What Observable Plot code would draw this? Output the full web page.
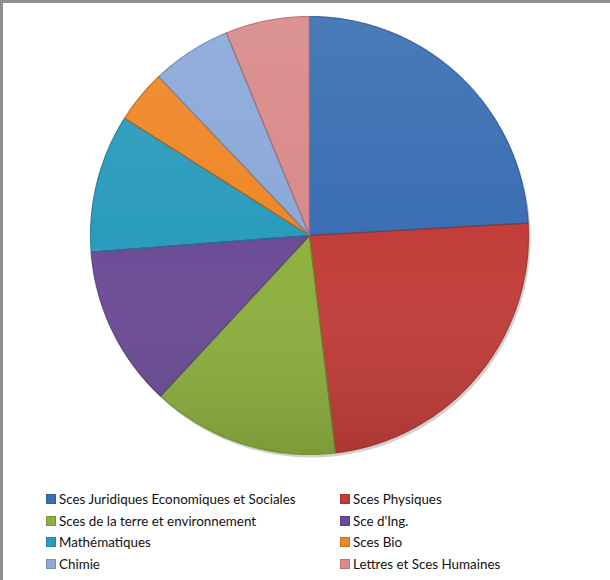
<!DOCTYPE html>
<html>
<head>
<meta charset="utf-8">
<script src="https://cdn.jsdelivr.net/npm/d3@7"></script>
<script src="https://cdn.jsdelivr.net/npm/@observablehq/plot@0.6"></script>
<style>
  html, body { margin: 0; padding: 0; background: #fff; }
  #frame { position: relative; width: 610px; height: 580px; box-sizing: border-box;
           border-top: 3px solid #8f8f8f; border-left: 3px solid #8f8f8f; overflow: hidden; }
  #chart { position: absolute; left: -3px; top: -3px; }
  #legend { position: absolute; left: -3px; top: -3px; width: 610px; font-family: Lato, "Open Sans", sans-serif;
            font-size: 13.4px; color: #111; }
  .item { position: absolute; display: flex; align-items: center; white-space: nowrap; }
  .sw { width: 10px; height: 10px; margin-right: 3px; box-sizing: border-box;
        box-shadow: inset 0 0 0 1px rgba(0,0,0,0.15); }
</style>
</head>
<body>
<div id="frame"><div id="chart"></div><div id="legend"></div></div>
<script>
const categories = [
  "Sces Juridiques Economiques et Sociales",
  "Sces Physiques",
  "Sces de la terre et environnement",
  "Sce d'Ing.",
  "Mathématiques",
  "Sces Bio",
  "Chimie",
  "Lettres et Sces Humaines"
];
const values = [24.1, 24.0, 13.8, 11.9, 10.2, 3.9, 5.9, 6.2];
const colors = ["#3a6fb3", "#c23e3a", "#8db03f", "#6c4c97", "#2b9cbd", "#ef8728", "#8ba9d9", "#d98a8a"];
const strokes = ["#2c568c", "#953028", "#6c8a2e", "#533a74", "#1f7891", "#b86516", "#6a86b3", "#b06a6a"];

// Build slice outlines from the values with d3.pie (angles clockwise from 12 o'clock)
const arcs = d3.pie().sort(null).value(d => d)(values);
const pts = [];
arcs.forEach((a, i) => {
  const cat = categories[i];
  pts.push({cat, x: 0, y: 0});
  const n = Math.max(4, Math.ceil((a.endAngle - a.startAngle) / (Math.PI / 360)));
  for (let k = 0; k <= n; k++) {
    const t = a.startAngle + (a.endAngle - a.startAngle) * k / n;
    pts.push({cat, x: Math.sin(t), y: Math.cos(t)});
  }
  pts.push({cat, x: 0, y: 0});
});

const W = 610, H = 480;
const plot = Plot.plot({
  width: W, height: H,
  marginLeft: 90, marginRight: 82, marginTop: 16, marginBottom: 26,
  x: {domain: [-1, 1], axis: null},
  y: {domain: [-1, 1], axis: null},
  color: {domain: categories, range: colors},
  style: {background: "transparent"},
  marks: [
    Plot.line(pts, {x: "x", y: "y", z: "cat", fill: "#000", fillOpacity: 0.18, stroke: "none",
      curve: "linear", dx: 2, dy: 3, style: "filter: blur(3px)"}),
    Plot.line(pts, {x: "x", y: "y", z: "cat", fill: "cat", stroke: "cat", strokeWidth: 0.001, curve: "linear"}),
    Plot.line(pts, {x: "x", y: "y", z: "cat", fill: "url(#shade)", stroke: "none", curve: "linear"}),
    Plot.line(pts, {x: "x", y: "y", z: "cat", fill: "none",
      stroke: d => strokes[categories.indexOf(d.cat)], strokeWidth: 1.2, strokeOpacity: 0.8, curve: "linear"})
  ]
});
const ns = "http://www.w3.org/2000/svg";
const defs = document.createElementNS(ns, "defs");
const lg = document.createElementNS(ns, "linearGradient");
lg.setAttribute("id", "shade");
lg.setAttribute("gradientUnits", "userSpaceOnUse");
lg.setAttribute("x1", "0"); lg.setAttribute("y1", "16");
lg.setAttribute("x2", "0"); lg.setAttribute("y2", "454");
[["0", "#ffffff", "0.08"], ["0.5", "#ffffff", "0"], ["1", "#000000", "0.12"]].forEach(([o, c, op]) => {
  const s = document.createElementNS(ns, "stop");
  s.setAttribute("offset", o); s.setAttribute("stop-color", c); s.setAttribute("stop-opacity", op);
  lg.appendChild(s);
});
defs.appendChild(lg);
plot.insertBefore(defs, plot.firstChild);
document.getElementById("chart").appendChild(plot);

// Legend (two columns, below the pie)
const legend = document.getElementById("legend");
const colX = [46, 340];
const rowY = [499, 521, 542, 564];
categories.forEach((c, i) => {
  const it = document.createElement("div");
  it.className = "item";
  it.style.left = colX[i % 2] + "px";
  it.style.top = (rowY[Math.floor(i / 2)] - 9) + "px";
  it.style.height = "18px";
  const sw = document.createElement("span");
  sw.className = "sw";
  sw.style.background = colors[i];
  const tx = document.createElement("span");
  tx.textContent = c;
  it.appendChild(sw); it.appendChild(tx);
  legend.appendChild(it);
});
</script>
</body>
</html>
